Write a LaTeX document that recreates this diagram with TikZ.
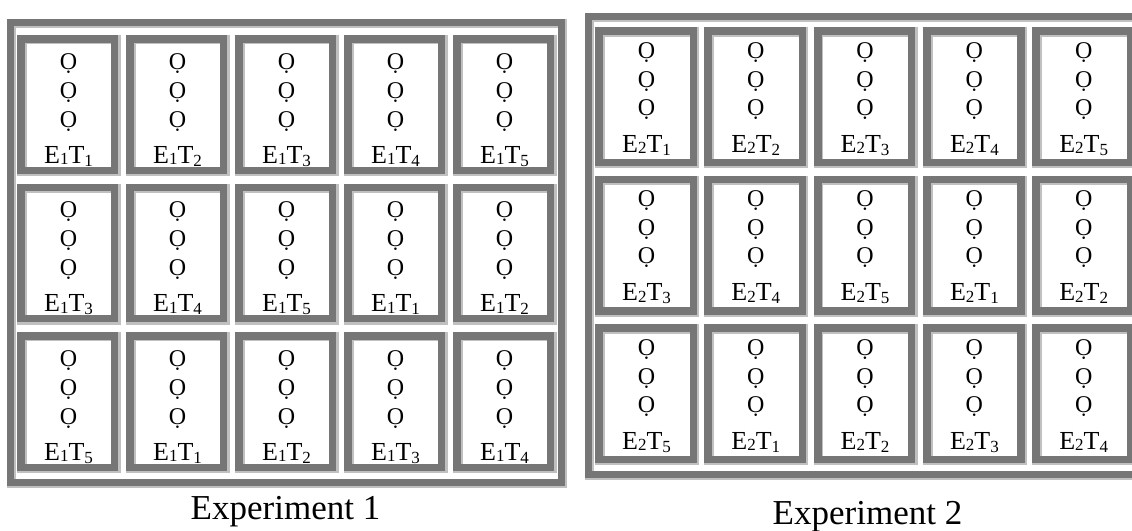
\documentclass[tikz,border=0pt]{standalone}
\usepackage{fontspec}
\setmainfont{Liberation Serif}
\definecolor{framegray}{RGB}{118,118,118}
\definecolor{edgegray}{RGB}{192,192,192}
\newcommand\ridgecell[4]{%
  \fill[edgegray] (#1,#2) rectangle (#3,#4);
  \fill[framegray] (#1,#2) rectangle ({#3-2.3},{#4-2.3});
  \fill[edgegray] ({#1+8},{#2+7.5}) rectangle ({#3-9.5},{#4-9.5});
  \fill[white] ({#1+9.7},{#2+9.2}) rectangle ({#3-9.5},{#4-9.5});
}
\newcommand\ridgeframe[4]{%
  \fill[edgegray] (#1,#2) rectangle (#3,#4);
  \fill[framegray] (#1,#2) rectangle ({#3-2},{#4-2});
  \fill[edgegray] ({#1+7},{#2+7}) rectangle ({#3-9},{#4-9});
  \fill[white] ({#1+9},{#2+9}) rectangle ({#3-9},{#4-9});
}
\newcommand\lbl[2]{E\raisebox{-1.5pt}{\fontsize{17}{17}\selectfont #1}T\raisebox{-3pt}{\fontsize{17}{17}\selectfont #2}}
\tikzset{
  olab/.style={anchor=base, inner sep=0pt, font=\fontsize{24}{24}\selectfont},
  tlab/.style={anchor=base, inner sep=0pt, font=\fontsize{26}{26}\selectfont},
  caption/.style={anchor=base, inner sep=0pt, font=\fontsize{35}{35}\selectfont}
}
\begin{document}
\begin{tikzpicture}[x=1pt,y=-1pt]
\useasboundingbox (0,0) rectangle (1132,530);
\clip (0,0) rectangle (1132,530);
\fill[white] (0,0) rectangle (1132,530);
% Experiment 1
\ridgeframe{7}{19}{567}{488}
\foreach \ytop/\labs [count=\ri] in {35/{1,2,3,4,5}, 183.5/{3,4,5,1,2}, 332/{5,1,2,3,4}} {
  \foreach \t [count=\ci] in \labs {
    \pgfmathsetmacro\xl{17+109*(\ci-1)}
    \ridgecell{\xl}{\ytop}{\xl+103.5}{\ytop+141}
    \node[olab] (a\ri\ci o1) at ({\xl+51.5},{\ytop+34}) {Ọ};
    \node[olab] (a\ri\ci o2) at ({\xl+51.5},{\ytop+63}) {Ọ};
    \node[olab] (a\ri\ci o3) at ({\xl+51.5},{\ytop+92}) {Ọ};
    \node[tlab] (a\ri\ci t) at ({\xl+51.5},{\ytop+128}) {\lbl{1}{\t}};
  }
}
\node[caption] (cap1) at (285.5,519) {Experiment 1};
% Experiment 2
\ridgeframe{585}{12.7}{1142}{480}
\foreach \ytop/\labs [count=\ri] in {27.3/{1,2,3,4,5}, 175.8/{3,4,5,1,2}, 324.3/{5,1,2,3,4}} {
  \foreach \t [count=\ci] in \labs {
    \pgfmathsetmacro\xl{595+109.3*(\ci-1)}
    \ridgecell{\xl}{\ytop}{\xl+104}{\ytop+141}
    \node[olab] (b\ri\ci o1) at ({\xl+51.5},{\ytop+31}) {Ọ};
    \node[olab] (b\ri\ci o2) at ({\xl+51.5},{\ytop+60}) {Ọ};
    \node[olab] (b\ri\ci o3) at ({\xl+51.5},{\ytop+88}) {Ọ};
    \node[tlab] (b\ri\ci t) at ({\xl+51.5},{\ytop+125}) {\lbl{2}{\t}};
  }
}
\node[caption] (cap2) at (867.5,524) {Experiment 2};
\end{tikzpicture}
\end{document}
